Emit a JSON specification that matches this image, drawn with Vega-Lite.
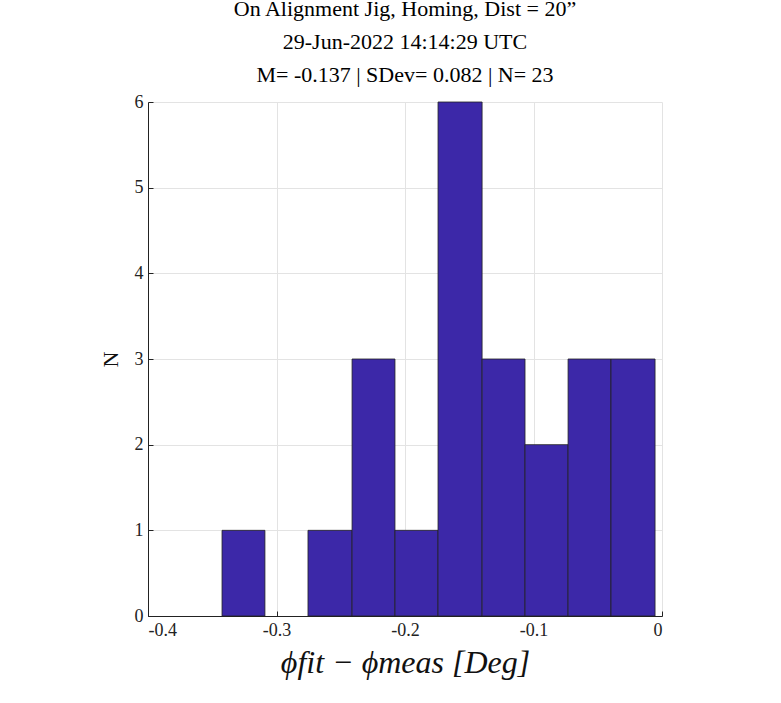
{
  "$schema": "https://vega.github.io/schema/vega-lite/v6.json",
  "autosize": "none",
  "padding": {"left": 148, "top": 102, "right": 119, "bottom": 87},
  "width": 514,
  "height": 514,
  "background": "white",
  "title": {
    "text": ["On Alignment Jig, Homing, Dist = 20”", "29-Jun-2022 14:14:29 UTC", "M= -0.137 | SDev= 0.082 | N= 23"],
    "font": "Liberation Serif",
    "fontSize": 22,
    "fontWeight": "normal",
    "lineHeight": 33,
    "offset": 6,
    "color": "black"
  },
  "data": {
    "values": [
      {"lo": -0.3424, "hi": -0.309, "n": 1},
      {"lo": -0.309, "hi": -0.2755, "n": 0},
      {"lo": -0.2755, "hi": -0.2412, "n": 1},
      {"lo": -0.2412, "hi": -0.2078, "n": 3},
      {"lo": -0.2078, "hi": -0.1743, "n": 1},
      {"lo": -0.1743, "hi": -0.140, "n": 6},
      {"lo": -0.140, "hi": -0.1066, "n": 3},
      {"lo": -0.1066, "hi": -0.0731, "n": 2},
      {"lo": -0.0731, "hi": -0.0397, "n": 3},
      {"lo": -0.0397, "hi": -0.0054, "n": 3}
    ]
  },
  "transform": [{"filter": "datum.n > 0"}],
  "mark": {"type": "bar", "color": "#3c28a8", "stroke": "#222222", "strokeWidth": 0.8},
  "encoding": {
    "x": {
      "field": "lo", "type": "quantitative",
      "scale": {"domain": [-0.4, 0], "nice": false, "zero": false},
      "axis": {"values": [-0.4, -0.3, -0.2, -0.1, 0], "labelExpr": "replace(format(datum.value, '~g'), '−', '-')", "title": "ϕfit − ϕmeas [Deg]", "titleFontStyle": "italic", "titleFontSize": 32, "titleFontWeight": "normal", "titlePadding": 8}
    },
    "x2": {"field": "hi"},
    "y": {
      "field": "n", "type": "quantitative",
      "scale": {"domain": [0, 6], "nice": false},
      "axis": {"values": [0, 1, 2, 3, 4, 5, 6], "title": "N", "titleFontSize": 22, "titleFontWeight": "normal", "titlePadding": 12}
    },
    "y2": {"datum": 0}
  },
  "config": {
    "view": {"stroke": null},
    "title": {"font": "Liberation Serif"},
    "axis": {
      "labelFont": "Liberation Serif",
      "titleFont": "Liberation Serif",
      "labelFontSize": 18,
      "labelColor": "#222222",
      "titleColor": "#111111",
      "domainColor": "#222222",
      "tickColor": "#222222",
      "tickSize": -5,
      "labelPadding": 10,
      "grid": true,
      "gridColor": "#e3e3e3"
    }
  }
}
